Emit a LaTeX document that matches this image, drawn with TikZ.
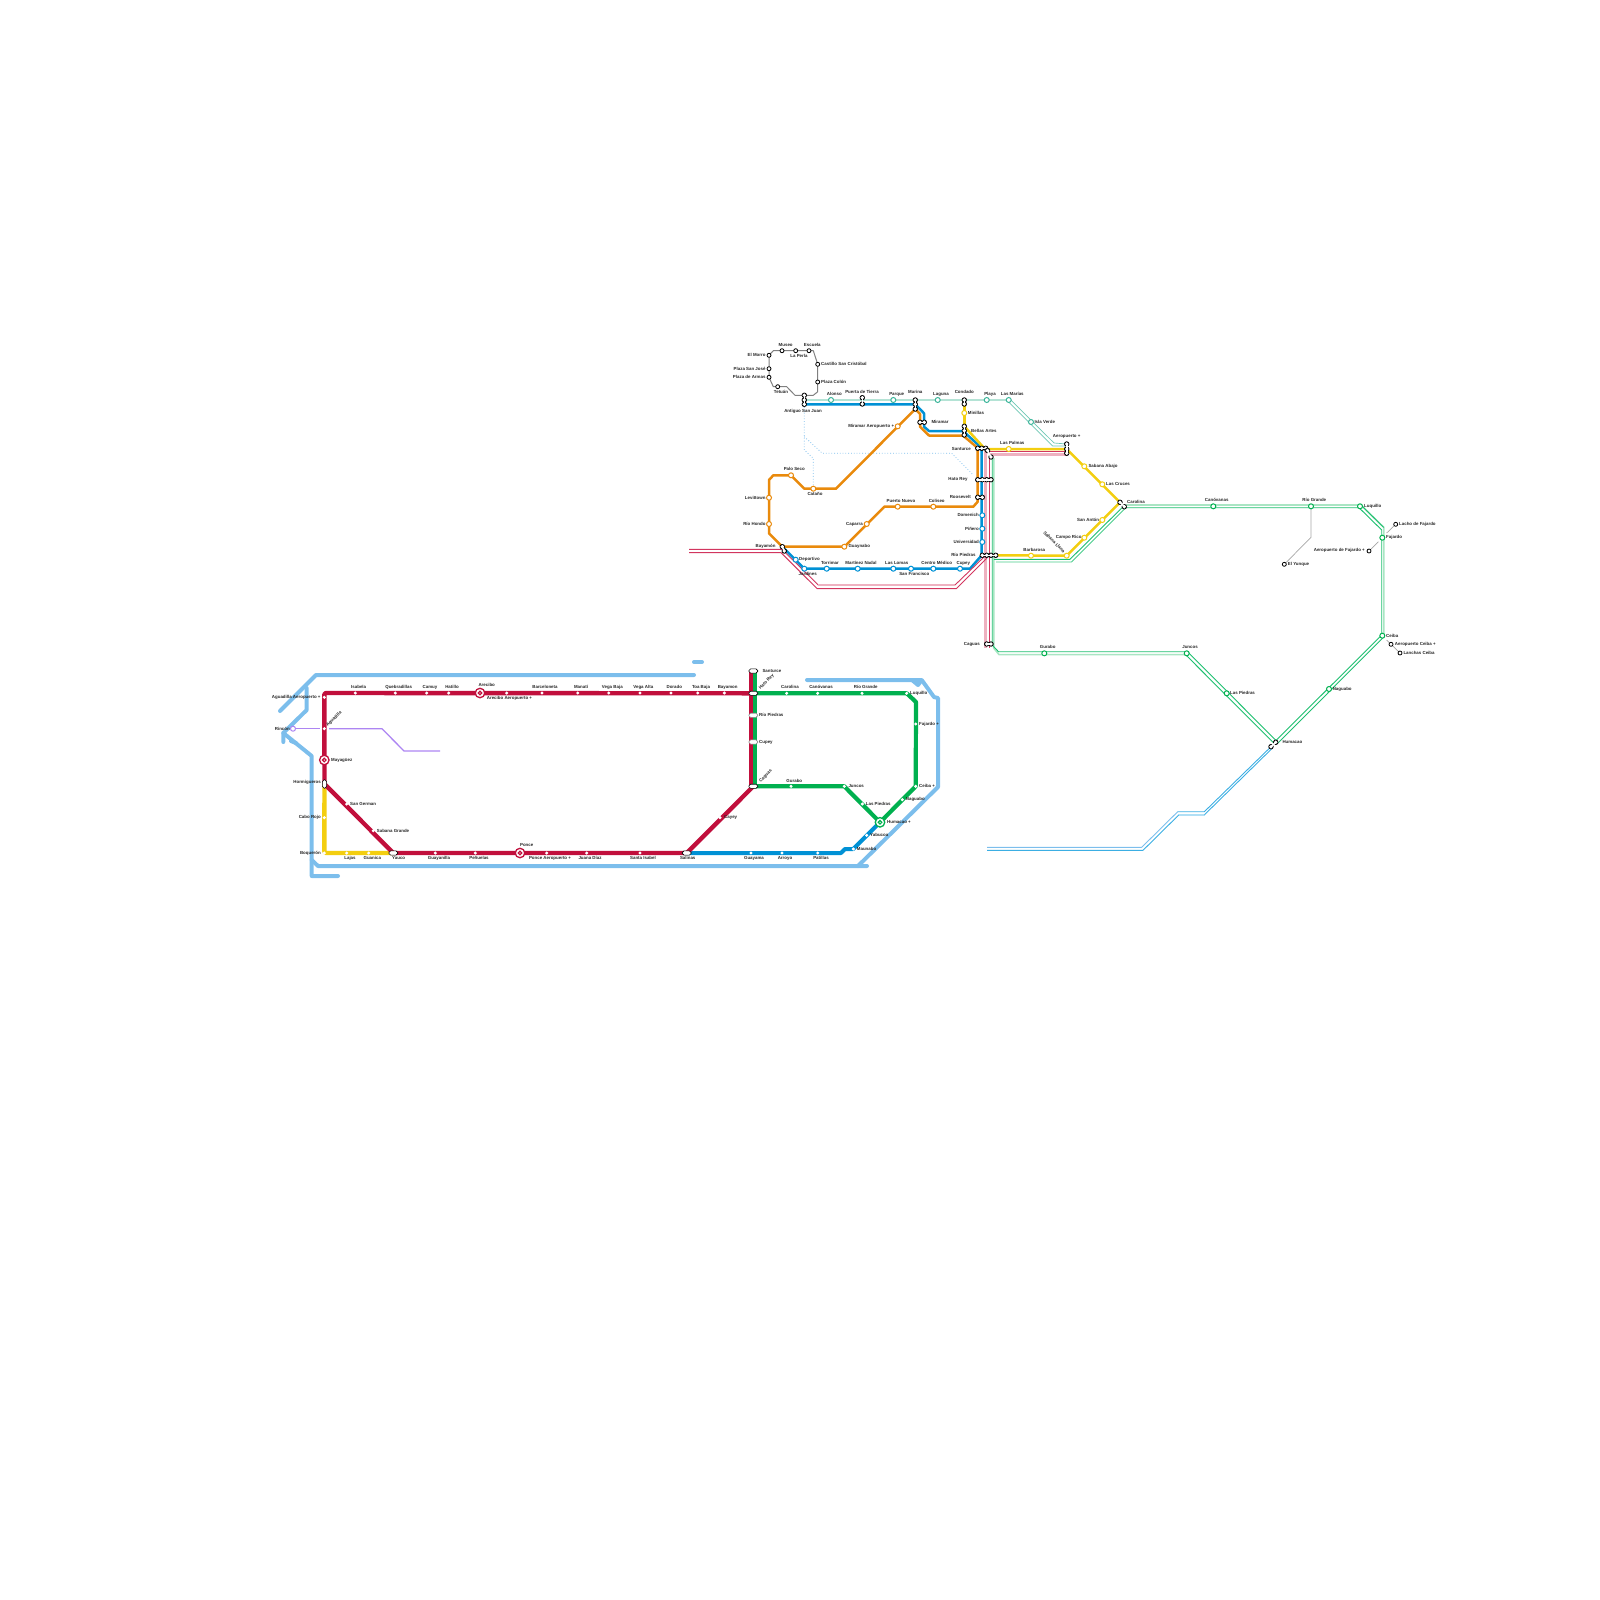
\documentclass[tikz,border=0pt]{standalone}
\usepackage{fontspec}
\setmainfont{Liberation Sans}
\pgfdeclarelayer{coast}
\pgfdeclarelayer{lines}
\pgfsetlayers{coast,lines,main}
\definecolor{cred}{HTML}{C10F3C}
\definecolor{cgreen}{HTML}{00B04F}
\definecolor{cblue}{HTML}{0091D5}
\definecolor{cyellow}{HTML}{F3CE10}
\definecolor{corange}{HTML}{E98A0C}
\definecolor{ccoast}{HTML}{7CBEEC}
\definecolor{cpurple}{HTML}{AD85F2}
\definecolor{cteal}{HTML}{3BB59A}
\definecolor{clteal}{HTML}{B4E3D5}
\definecolor{cpink}{HTML}{EEB1C0}
\definecolor{cdred}{HTML}{D2365F}
\definecolor{cgthin}{HTML}{1DBF6F}
\definecolor{cgpale}{HTML}{A9E5C3}
\definecolor{cbthin}{HTML}{3BAEE3}
\definecolor{cbpale}{HTML}{B0DFF5}
\definecolor{cgrey}{HTML}{808080}
\tikzset{
 lbl/.style={inner sep=0pt,font=\fontsize{4.4}{5}\selectfont\bfseries,text=black!85},
 dot/.style={circle,fill=white,inner sep=0pt,minimum size=3.4pt},
 ring/.style={circle,fill=white,draw=#1,line width=1pt,inner sep=0pt,minimum size=5pt},
 bst/.style={circle,fill=white,draw=black,line width=0.8pt,inner sep=0pt,minimum size=4pt},
 skb/.style={circle,fill=black,inner sep=0pt,minimum size=5.4pt},
 skw/.style={circle,fill=white,inner sep=0pt,minimum size=3.8pt},
 pill/.style={rectangle,rounded corners=1.8pt,fill=white,draw=black,line width=0.6pt,inner sep=0pt,minimum width=9pt,minimum height=4.2pt},
 pillg/.style={pill,draw=black!45},
 vpill/.style={pill,minimum width=4.2pt,minimum height=8.5pt},
 big/.style={circle,fill=white,draw=#1,line width=1.3pt,inner sep=0pt,minimum size=9.5pt},
 bigc/.style={circle,fill=white,draw=#1,line width=1.2pt,inner sep=0pt,minimum size=3.6pt},
 coastl/.style={draw=ccoast,line width=4pt,line cap=round,line join=round},
 thick5/.style={line width=4.4pt,line join=round},
 thin3/.style={line width=2.5pt,line join=round},
 greyl/.style={draw=cgrey,line width=1pt,line join=round},
 spur/.style={draw=cgrey!70,line width=0.7pt},
 dotl/.style={draw=ccoast,line width=0.8pt,dotted},
}
\newcounter{lab}
\newcommand{\tl}[4]{\stepcounter{lab}\node[lbl,anchor=#1] (lab\thelab) at (#2,#3) {#4};}
\newcommand{\tr}[4]{\stepcounter{lab}\node[lbl,rotate=#1] (lab\thelab) at (#2,#3) {#4};}
\newcommand{\st}[4]{\node[#1] (#2) at (#3,#4) {};}
% stack of linked circles: name, list of x/y
\newcommand{\stk}[2]{%
 \foreach \xx/\yy [count=\ii] in {#2} {\node[skb] (#1-\ii) at (\xx,\yy) {};}%
 \foreach \xx/\yy [count=\ii] in {#2} {\node[skw] (#1w\ii) at (\xx,\yy) {};}%
 \foreach \xx/\yy [count=\ii] in {#2} {\ifnum\ii>1 \draw[white,line width=1.6pt] (#1w\ii.center) -- (#1w1.center);\fi}%
}
\begin{document}
\begin{tikzpicture}[x=1pt,y=-1pt]
\useasboundingbox (0,0) rectangle (1600,1600);
% ---------- stations: west network
\foreach \n/\x/\y in {isa/355.3/693,que/395.3/693,cam/426.7/693,hat/448.7/693,aae/506.7/693,bar/542/693,man/577.7/693,vba/608.7/693,val/640/693,dor/671/693,tob/697.7/693,bay/724.3/693,
 agua/324.3/697.3,agu/324.3/728.7,cab/324.3/817.7,boq/324.3/853,ger/346.7/804,sgr/373.3/830.7,laj/346.7/853,gua/368.7/853,gla/435.3/853,pen/475.3/853,pae/546.7/853,jua/586.7/853,sis/640/853,cay/720/817.7,
 gma/751/853,arr/782/853,pat/817.7/853,car/786.7/693.3,can/817.7/693.3,rgr/862/693.3,luq/906.7/693.3,faj/915.7/724,cei/915.7/786.3,nag/902.3/799.7,lpi/862.3/804,jun/844.3/786.3,gur/791/786.3,yab/866.7/835.3,mau/853.3/849}
 {\node[dot] (\n) at (\x,\y) {};}
\st{big=cred}{may}{324.3}{760}
\st{bigc=cred}{mayc}{324.3}{760}
\st{big=cred}{are}{480}{693}
\st{bigc=cred}{arec}{480}{693}
\st{big=cred}{pon}{520}{853}
\st{bigc=cred}{ponc}{520}{853}
\st{big=cgreen}{hum}{880}{822.3}
\st{bigc=cgreen}{humc}{880}{822.3}
\st{ring=cpurple}{rin}{293}{728.7}
\node[vpill] (phor) at (324.5,784) {};
\node[pill] (pyau) at (393.3,853) {};
\node[pill] (psal) at (686.7,853) {};
\node[pill] (psan) at (753.3,671) {};
\node[pill] (phat) at (753.3,693.3) {};
\node[pillg] (prio) at (753.3,715.3) {};
\node[pillg] (pcup) at (753.3,742) {};
\node[pill] (pcag) at (753.3,786.3) {};
% ---------- stations: east network
\foreach \n/\x/\y in {morro/769/355.3,museo/782/350.7,perla/795.7/350.7,escu/809/350.7,casti/817.7/364.3,colon/817.7/382,psj/769/368.7,parm/769/377.3,tetu/777.7/386.7,
 eyun/1284.3/564.3,lacho/1395.7/524.3,afaj/1369/551,acei/1391/644.3,lcei/1400/653}
 {\node[bst] (\n) at (\x,\y) {};}
\foreach \n/\x/\y in {alo/831/400,par/893.3/400,lag/937.7/400,pla/986.7/400,mar/1008.7/400,isl/1031/422}
 {\node[ring=cteal] (\n) at (\x,\y) {};}
\foreach \n/\x/\y in {dep/795.7/559.7,jar/804.3/568.7,tor/826.7/568.7,mna/857.7/568.7,llo/893.3/568.7,sfr/911/568.7,cme/933.3/568.7,cpy/960/568.7,dom/982.3/515.3,pin/982.3/528.7,uni/982.3/542}
 {\node[ring=cblue] (\n) at (\x,\y) {};}
\foreach \n/\x/\y in {mae/897.7/426.3,cat/813.3/488.7,pse/791/475.3,lev/769/497.7,rho/769/524,gny/844.3/546.7,cap/866.7/524,pnu/897.7/506.7,col/933.3/506.7}
 {\node[ring=corange] (\n) at (\x,\y) {};}
\foreach \n/\x/\y in {mnl/964.3/413,lpa/1008.7/449,sab/1084.3/466.3,lcr/1102.3/484.3,san/1102.3/520,cri/1084.3/537.7,bbs/1031/555.7,sll/1066.7/555.7}
 {\node[ring=cyellow] (\n) at (\x,\y) {};}
\foreach \n/\x/\y in {gcan/1213.3/506.3,grio/1311/506.3,gluq/1360/506.3,gfaj/1382.3/537.7,gcei/1382.3/635.7,gnag/1329/689,gjun/1186.7/653.3,glpi/1226.7/693.3,ggur/1044.3/653.3}
 {\node[ring=cgreen] (\n) at (\x,\y) {};}
\stk{asj}{804.3/395.3,804.3/400,804.3/404.3}
\stk{pti}{862.3/397.7,862.3/404}
\stk{mrn}{915.3/400,915.3/404.3,915.3/409}
\stk{mir}{920/422.3,924.3/422.3}
\stk{con}{964.3/400,964.3/404}
\stk{bel}{964.3/426.3,964.3/430.7,964.3/435}
\stk{aer}{1066.7/444,1066.7/449,1066.7/453.3}
\stk{sant}{977.7/448.3,981.7/448.3,985.7/448.3}
\stk{snb}{987.5/450.5,991/457}
\stk{hre}{977.7/479.7,982.3/479.7,986.7/479.7,991/479.7}
\stk{roo}{977.7/497.3,982.3/497.3}
\stk{rpi}{982.3/555.3,986.7/555.3,991/555.3,995.7/555.3}
\stk{cgs}{986.7/644,991/644}
\stk{cln}{1120/502.3,1124.3/506.7}
\stk{bym}{782.3/546.7,784.3/551}
\stk{hmc}{1275.7/742.3,1271/746.7}
% ---------- coast
\begin{pgfonlayer}{coast}
\draw[coastl] (280,711) -- (316,675) -- (694,675);
\draw[coastl] (306.7,688) -- (306.7,710) -- (283.3,733) -- (283.3,742);
\draw[coastl] (283.3,733) -- (311.7,756) -- (311.7,876) -- (338,876);
\draw[coastl] (291,741) -- (296,743);
\draw[coastl] (311.7,860) -- (318,866) -- (867,866);
\draw[coastl] (858,866) -- (938,787) -- (938,698) -- (934,697) -- (921.7,680) -- (807,680);
\draw[coastl] (912,680) -- (918,685) -- (921,681);
\draw[coastl] (694,662) -- (702,662);
\end{pgfonlayer}
% ---------- lines
\begin{pgfonlayer}{lines}
% purple
\draw[cpurple,line width=1.3pt] (rin.center) -- (320,728.7);
\draw[cpurple,line width=1.3pt,line join=round] (329,728.7) -- (382,728.7) -- (404,751) -- (440,751);
% yellow west
\draw[cyellow,thick5,rounded corners=2pt] (phor.center) -- (boq.center) -- (pyau.center);
% blue west
\draw[cblue,line width=4pt,line join=round] (psal.center) -- (841,853) -- (845,849) -- (mau.center) -- (hum.center);
% green west
\draw[cgreen,line width=4.2pt,line join=round] ([xshift=1.7pt]psan.center) -- ([xshift=1.7pt]pcag.center);
\draw[cgreen,line width=4.2pt,line join=round] (phat.center) -- (luq.center) -- (916,702) -- (cei.center) -- (hum.center) -- (jun.center) -- (pcag.center);
% red west
\draw[cred,thick5] ([xshift=-2.6pt]psan.center) -- ([xshift=-2.6pt]pcag.center);
\draw[cred,thick5,rounded corners=1.5pt] (phat.center) -- (324.3,693) -- (phor.center);
\draw[cred,thick5] (phor.center) -- (pyau.center) -- (psal.center) -- (pcag.center);
% dotted light blue
\draw[dotl] (asj-3.center) -- (804.3,450) -- (813.3,458.3) -- (813.3,485);
\draw[dotl] (804.3,436.7) -- (822.3,453.3) -- (951.7,453.3) -- (973.3,475);
% grey loop
\draw[greyl] (asj-1.center) -- (795,395.3) -- (786.7,386.7) -- (tetu.center) -- (773.3,386.7) -- (parm.center) -- (morro.center) -- (773.3,350.7) -- (813.3,350.7) -- (casti.center) -- (817.7,391.7) -- (813.3,395.3) -- (asj-1.center);
% spurs
\draw[spur] (grio.center) -- (1311,537.3) -- (eyun.center);
\draw[spur] (1386.7,533) -- (lacho.center);
\draw[spur] (1378.3,541.7) -- (afaj.center);
\draw[spur] (1386.7,640) -- (acei.center) -- (lcei.center);
% light teal
\draw[clteal,line width=2.6pt] (asj-2.center) -- (mar.center);
\draw[cteal!75,line width=0.7pt] (1009.8,398.9) -- (1054,443) -- (aer-1.center);
\draw[cteal!75,line width=0.7pt] (1007.6,401.1) -- (1052.6,446) -- (1066.7,446);
% blue east
\draw[cblue,thin3] (asj-3.center) -- (mrn-2.center) -- (924,413.3) -- (924,426.7) -- (929,431) -- (963,431) -- (981.7,448) -- (981.7,555.3) -- (970,568.7) -- (jar.center) -- (bym-1.center);
% orange
\draw[corange,thin3] (mrn-3.center) -- (920,414) -- (920,426.7) -- (929,435.5) -- (963,435.5) -- (977.7,448) -- (977.7,501.7) -- (973.3,506.7) -- (pnu.center) -- (884.3,506.7) -- (gny.center) -- (bym-1.center) -- (769,533.3) -- (769,480) -- (773.3,475.3) -- (pse.center) -- (804.3,488.7) -- (836,488.7) -- (mrn-3.center);
% pink + red double
\draw[cpink,line width=2.6pt] (985.7,451) -- (985.7,648);
\draw[cpink,line width=2.4pt] (990,454.5) -- (1066.7,454.5);
\draw[cdred,line width=1pt] (989,451.5) -- (989,648);
\draw[cdred,line width=1pt] (989,451.5) -- (1066.7,451.5);
\draw[cdred,line width=0.9pt,line join=round] (689,549.3) -- (782,549.3) -- (818.3,585);
\draw[cpink,line width=2pt] (818.3,585) -- (955,585);
\draw[cdred,line width=0.9pt] (955,585) -- (985,556);
\draw[cdred,line width=1pt,line join=round] (689,552.7) -- (781,552.7) -- (817,588.5) -- (956.5,588.5) -- (987,558);
% yellow east
\draw[cyellow,thin3] (con-2.center) -- (bel-1.center);
\draw[cyellow,thin3,line join=round] (bel-1.center) -- (985,449) -- (aer-2.center) -- (1120,502.3) -- (sll.center) -- (rpi-4.center);
% green double
\draw[cgpale,line width=1.6pt,line join=round] (993.7,458) -- (993.7,648) -- (999,654.6) -- (1185.5,654.6);
\draw[cgthin,line width=0.9pt,line join=round] (992.2,458) -- (992.2,645) -- (998.5,651.7) -- (1187.5,651.7) -- (1276,740.5);
\draw[cgthin,line width=0.9pt] (1185.5,654.6) -- (1274,743.3);
\draw[cgpale,line width=1.6pt,line join=round] (1126,505) -- (1361,505) -- (1383.9,527.5) -- (1383.9,637);
\draw[cgthin,line width=0.9pt,line join=round] (1126,507.7) -- (1359,507.7) -- (1381.7,530) -- (1381.7,635) -- (1274.5,742);
\draw[cgthin,line width=0.9pt] (1361,505) -- (1383.7,527.5);
\draw[cgthin,line width=0.9pt] (1383.7,637) -- (1277.5,743.5);
\draw[cgthin,line width=0.9pt,line join=round] (994,559.3) -- (1070,559.3) -- (1122,507.7);
\draw[cgthin!80,line width=0.9pt,line join=round] (996,562) -- (1071.5,562) -- (1125.5,508);
% blue double
\draw[ccoast,line width=0.9pt,line join=round] (987,847.3) -- (1141.7,847.3) -- (1177.7,811.7);
\draw[cbthin,line width=0.9pt,line join=round] (987,850.3) -- (1143,850.3) -- (1179,814.7);
\draw[cbpale,line width=1.6pt] (1179,814.7) -- (1204.5,814.7);
\draw[cbthin,line width=0.9pt,line join=round] (1177.7,811.7) -- (1204.3,811.7) -- (hmc-2.center);
\draw[cbthin,line width=0.9pt] (1204.5,814.7) -- (1272.5,748);
\end{pgfonlayer}
% ---------- labels west
\tl{center}{358.7}{687.3}{Isabela}
\tl{center}{398.7}{687.3}{Quebradillas}
\tl{center}{430}{687.3}{Camuy}
\tl{center}{452}{687.3}{Hatillo}
\tl{center}{486.7}{685}{Arecibo}
\tl{west}{486.7}{698.3}{Arecibo Aeropuerto +}
\tl{center}{545}{687.3}{Barceloneta}
\tl{center}{581}{687.3}{Manatí}
\tl{center}{612.3}{687.3}{Vega Baja}
\tl{center}{643.3}{687.3}{Vega Alta}
\tl{center}{674.3}{687.3}{Dorado}
\tl{center}{701}{687.3}{Toa Baja}
\tl{center}{727.7}{687.3}{Bayamon}
\tl{center}{350}{858.3}{Lajas}
\tl{center}{372.3}{858.3}{Guanica}
\tl{center}{398.7}{858.3}{Yauco}
\tl{center}{439}{858.3}{Guayanilla}
\tl{center}{479}{858.3}{Peñuelas}
\tl{center}{526.7}{845}{Ponce}
\tl{center}{550}{858.3}{Ponce Aeropuerto +}
\tl{center}{590}{858.3}{Juana Díaz}
\tl{center}{643}{858.3}{Santa Isabel}
\tl{center}{687.7}{858.3}{Salinas}
\tl{center}{754}{858.3}{Guayama}
\tl{center}{785}{858.3}{Arroyo}
\tl{center}{821}{858.3}{Patillas}
\tl{east}{320.7}{697.3}{Aguadilla Aeropuerto +}
\tr{45}{334}{719}{Aguadilla}
\tl{east}{290}{728.7}{Rincón}
\tl{west}{331}{760}{Mayagüez}
\tl{east}{321}{782}{Hormigueros}
\tl{east}{321}{817.3}{Cabo Rojo}
\tl{east}{321}{853}{Boquerón}
\tl{west}{350}{804}{San German}
\tl{west}{376.7}{830.7}{Sabana Grande}
\tl{west}{724}{817.7}{Cayey}
\tl{west}{762.3}{670.7}{Santurce}
\tr{45}{766.7}{682}{Hato Rey}
\tl{west}{759}{715}{Río Piedras}
\tl{west}{759}{742}{Cupey}
\tr{45}{765.7}{776}{Caguas}
\tl{center}{790}{687.3}{Carolina}
\tl{center}{821}{687.3}{Canóvanas}
\tl{center}{865.7}{687.3}{Río Grande}
\tl{west}{910}{693}{Luquillo}
\tl{west}{919}{724}{Fajardo +}
\tl{west}{919}{786.3}{Ceiba +}
\tl{west}{905.7}{799.7}{Naguabo}
\tl{west}{887}{822}{Humacao +}
\tl{west}{865.7}{804}{Las Piedras}
\tl{west}{848.3}{786.3}{Juncos}
\tl{center}{794.3}{781}{Gurabo}
\tl{west}{870}{835.3}{Yabucoa}
\tl{west}{856.7}{849}{Maunabo}
% ---------- labels east
\tl{center}{785.7}{345.3}{Museo}
\tl{center}{812.3}{345.3}{Escuela}
\tl{center}{799}{356}{La Perla}
\tl{east}{765.7}{355}{El Morro}
\tl{east}{765.7}{368.7}{Plaza San José}
\tl{east}{765.7}{377.3}{Plaza de Armas}
\tl{center}{781}{391.7}{Tetuán}
\tl{west}{821}{364}{Castillo San Cristóbal}
\tl{west}{821}{382}{Plaza Colón}
\tl{center}{803}{411.7}{Antiguo San Juan}
\tl{center}{834.3}{394}{Alonso}
\tl{center}{862}{392}{Puerta de Tierra}
\tl{center}{896.7}{394}{Parque}
\tl{center}{915.3}{392}{Marina}
\tl{center}{941}{394}{Laguna}
\tl{center}{964.3}{392}{Condado}
\tl{center}{990}{394}{Playa}
\tl{center}{1012.3}{394}{Las Marías}
\tl{west}{1034.3}{422}{Isla Verde}
\tl{center}{1066.7}{436}{Aeropuerto +}
\tl{west}{967.7}{413}{Minillas}
\tl{west}{971}{431}{Bellas Artes}
\tl{east}{971}{448.7}{Santurce}
\tl{east}{967.7}{479.7}{Hato Rey}
\tl{east}{971}{497.3}{Roosevelt}
\tl{east}{979}{515.3}{Domenich}
\tl{east}{979}{528.7}{Piñero}
\tl{east}{979}{542}{Universidad}
\tl{east}{975.7}{555.3}{Río Piedras}
\tl{center}{1012.3}{443}{Las Palmas}
\tl{west}{1088.3}{466.3}{Sabana Abajo}
\tl{west}{1106}{484.3}{Las Cruces}
\tl{east}{1099.3}{520}{San Antón}
\tl{east}{1081.7}{537.3}{Campo Rico}
\tl{center}{1034.3}{549.7}{Barbarosa}
\tr{-45}{1054.3}{542}{Sabana Llana}
\tl{west}{1127}{502}{Carolina}
\tl{west}{931.3}{422}{Miramar}
\tl{east}{894.3}{426}{Miramar Aeropuerto +}
\tl{center}{794.3}{469}{Palo Seco}
\tl{center}{815}{494}{Cataño}
\tl{east}{765.7}{497.7}{Levittown}
\tl{east}{765.7}{524}{Río Hondo}
\tl{east}{775.7}{546.7}{Bayamón}
\tl{west}{799}{559.7}{Deportivo}
\tl{center}{807.7}{574}{Jardines}
\tl{center}{830}{563}{Torrimar}
\tl{center}{861}{563}{Martínez Nadal}
\tl{center}{896.7}{563}{Las Lomas}
\tl{center}{914.3}{574}{San Francisco}
\tl{center}{936.7}{563}{Centro Médico}
\tl{center}{963.3}{563}{Cupey}
\tl{west}{848.3}{546.7}{Guaynabo}
\tl{east}{863}{524}{Caparra}
\tl{center}{901}{500.7}{Puerto Nuevo}
\tl{center}{936.7}{500.7}{Coliseo}
\tl{west}{1399}{524}{Lacho de Fajardo}
\tl{west}{1386}{537.7}{Fajardo}
\tl{east}{1365}{550.7}{Aeropuerto de Fajardo +}
\tl{west}{1386}{635.7}{Ceiba}
\tl{west}{1394.7}{644.3}{Aeropuerto Ceiba +}
\tl{west}{1403.3}{653}{Lanchas Ceiba}
\tl{west}{1287.7}{564.3}{El Yunque}
\tl{center}{1216.7}{500.3}{Canóvanas}
\tl{center}{1314.3}{500.3}{Río Grande}
\tl{west}{1364}{506.3}{Luquillo}
\tl{center}{1190}{647.3}{Juncos}
\tl{west}{1230}{693.3}{Las Piedras}
\tl{west}{1282.3}{741.7}{Humacao}
\tl{center}{1047.7}{647.3}{Gurabo}
\tl{east}{980}{644}{Caguas}
\tl{west}{1332.6}{689}{Naguabo}
\end{tikzpicture}
\end{document}
